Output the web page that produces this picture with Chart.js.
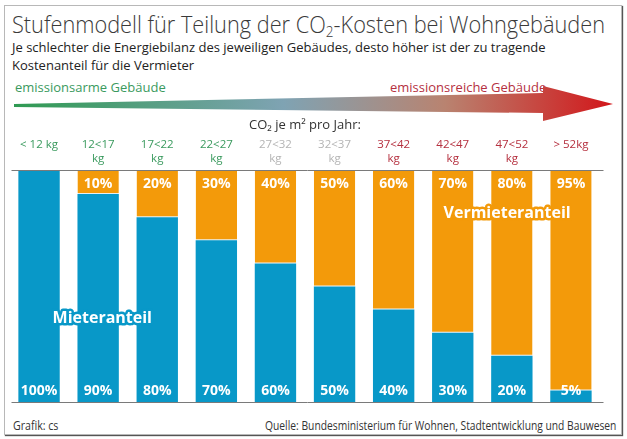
<!DOCTYPE html>
<html lang="de">
<head>
<meta charset="utf-8">
<script src="https://cdn.jsdelivr.net/npm/chart.js@4.4.1/dist/chart.umd.min.js"></script>
<style>
  html, body { margin: 0; padding: 0; background: #fff; }
  body { width: 627px; height: 439px; position: relative; overflow: hidden; font-family: "Open Sans", sans-serif; }
  .frame { position: absolute; left: 4px; top: 5px; width: 616px; height: 428px; border: 1px solid #b8b8b8; box-shadow: 1px 1px 1px #555; }
  .txt { position: absolute; white-space: nowrap; line-height: 1; }
  #title { left: 12px; top: 12px; font-size: 24px; font-weight: 300; color: #3a3a3a; transform-origin: left top; }
  #title sub { font-size: 15px; vertical-align: -4px; line-height: 0; }
  #sub1 { left: 12px; top: 41px; font-size: 13px; color: #222; }
  #sub2 { left: 12px; top: 59px; font-size: 13px; color: #222; }
  #low { left: 15px; top: 81px; font-size: 13px; color: #3a9a5e; }
  #high { left: 390px; top: 81px; font-size: 13px; color: #b5303f; }
  #arrow { position: absolute; left: 0; top: 80px; }
  #foot1 { left: 13px; top: 420px; font-size: 12px; color: #333; transform-origin: left top; }
  #foot2 { right: 11px; top: 420px; font-size: 12px; color: #333; transform-origin: right top; }
  #wrap { position: absolute; left: 0; top: 110px; width: 627px; height: 300px; }
</style>
</head>
<body>
<div class="frame"></div>
<div class="txt" id="title">Stufenmodell für Teilung der CO<sub>2</sub>-Kosten bei Wohngebäuden</div>
<div class="txt" id="sub1">Je schlechter die Energiebilanz des jeweiligen Gebäudes, desto höher ist der zu tragende</div>
<div class="txt" id="sub2">Kostenanteil für die Vermieter</div>
<div class="txt" id="low">emissionsarme Gebäude</div>
<div class="txt" id="high">emissionsreiche Gebäude</div>
<svg id="arrow" width="627" height="45" viewBox="0 80 627 45">
  <defs>
    <linearGradient id="g" x1="14" y1="0" x2="613" y2="0" gradientUnits="userSpaceOnUse">
      <stop offset="0" stop-color="#2f9a52"/>
      <stop offset="0.45" stop-color="#7fa3b3"/>
      <stop offset="0.72" stop-color="#b98370"/>
      <stop offset="1" stop-color="#d2161a"/>
    </linearGradient>
  </defs>
  <polygon fill="url(#g)" points="14,104 543,93 543,86 613,104 543,121 543,113 14,107"/>
</svg>
<div id="wrap"><canvas id="chart"></canvas></div>
<div class="txt" id="foot1">Grafik: cs</div>
<div class="txt" id="foot2">Quelle: Bundesministerium für Wohnen, Stadtentwicklung und Bauwesen</div>

<script>
/* Daten */
const kategorien = [
  ['< 12 kg', ''], ['12<17', 'kg'], ['17<22', 'kg'], ['22<27', 'kg'], ['27<32', 'kg'],
  ['32<37', 'kg'], ['37<42', 'kg'], ['42<47', 'kg'], ['47<52', 'kg'], ['> 52kg', '']
];
const mieterAnteil    = [100, 90, 80, 70, 60, 50, 40, 30, 20, 5];
const vermieterAnteil = [null, 10, 20, 30, 40, 50, 60, 70, 80, 95];
const kategorieFarben = ['#3a9a5e', '#3a9a5e', '#3a9a5e', '#3a9a5e', '#b4b4b4',
                         '#b4b4b4', '#b5303f', '#b5303f', '#b5303f', '#b5303f'];

const BLAU = '#0898c8';
const ORANGE = '#f39a0a';

/* Texte auf Breite des Originals stauchen */
function aufBreite(id, breite) {
  const el = document.getElementById(id);
  el.style.transform = 'scaleX(' + (breite / el.offsetWidth) + ')';
}
aufBreite('title', 593);
aufBreite('foot1', 45);
aufBreite('foot2', 351);

/* Linien oben und unten */
const linien = {
  id: 'linien',
  afterDraw(chart) {
    const { ctx, chartArea: a } = chart;
    ctx.save();
    ctx.strokeStyle = '#7a7a7a';
    ctx.lineWidth = 1;
    ctx.beginPath();
    ctx.moveTo(a.left + 2, a.top - 0.5); ctx.lineTo(a.right + 3, a.top - 0.5);
    ctx.moveTo(a.left + 2, a.bottom + 0.5); ctx.lineTo(a.right + 3, a.bottom + 0.5);
    ctx.stroke();
    ctx.restore();
  }
};

/* Prozentwerte und Beschriftungen der Flächen */
const werte = {
  id: 'werte',
  afterDatasetsDraw(chart) {
    const { ctx, scales } = chart;
    ctx.save();
    ctx.fillStyle = '#fff';
    ctx.textAlign = 'center';
    ctx.textBaseline = 'middle';
    ctx.font = 'bold 14px "Open Sans"';
    chart.getDatasetMeta(0).data.forEach((bar, i) => {
      ctx.fillText(mieterAnteil[i] + '%', bar.x, bar.base - 11);
    });
    chart.getDatasetMeta(1).data.forEach((bar, i) => {
      if (vermieterAnteil[i] == null) return;
      ctx.fillText(vermieterAnteil[i] + '%', bar.x, bar.y + 13);
    });

    // Flächenbeschriftungen mit Rand in Balkenfarbe
    ctx.font = 'bold 16px "Open Sans"';
    ctx.lineJoin = 'round';
    ctx.lineWidth = 5;
    const beschr = [
      ['Mieteranteil', 1.07, 36.0, BLAU],
      ['Vermieteranteil', 7.92, 81.8, ORANGE]
    ];
    beschr.forEach(([t, xi, yv, c]) => {
      const x = scales.x.getPixelForValue(xi);
      const y = scales.y.getPixelForValue(yv);
      ctx.strokeStyle = c;
      ctx.strokeText(t, x, y);
      ctx.fillText(t, x, y);
    });
    ctx.restore();
  }
};

new Chart(document.getElementById('chart'), {
  type: 'bar',
  data: {
    labels: kategorien,
    datasets: [
      { label: 'Mieteranteil', data: mieterAnteil, backgroundColor: BLAU, borderWidth: 0 },
      { label: 'Vermieteranteil', data: vermieterAnteil, backgroundColor: ORANGE,
        borderColor: '#e6eef0', borderWidth: { bottom: 1, top: 0, left: 0, right: 0 }, borderSkipped: false }
    ]
  },
  options: {
    responsive: true,
    maintainAspectRatio: false,
    animation: false,
    layout: { padding: { left: 9.5, right: 26.5, top: 0, bottom: 8 } },
    datasets: { bar: { categoryPercentage: 1, barPercentage: 0.7 } },
    scales: {
      x: {
        position: 'top',
        stacked: true,
        grid: { display: false },
        border: { display: false },
        afterFit: s => { s.height = 61; },
        title: {
          display: true,
          text: 'CO₂ je m² pro Jahr:',
          color: '#333',
          font: { family: '"Open Sans"', size: 13 },
          padding: { top: 7, bottom: 0 }
        },
        ticks: {
          autoSkip: false,
          maxRotation: 0,
          padding: -3,
          color: c => kategorieFarben[c.index],
          font: { family: '"Open Sans"', size: 11.5, lineHeight: 1.25 }
        }
      },
      y: { display: false, stacked: true, min: 0, max: 100 }
    },
    plugins: { legend: { display: false }, tooltip: { enabled: false } }
  },
  plugins: [linien, werte]
});
</script>
</body>
</html>
